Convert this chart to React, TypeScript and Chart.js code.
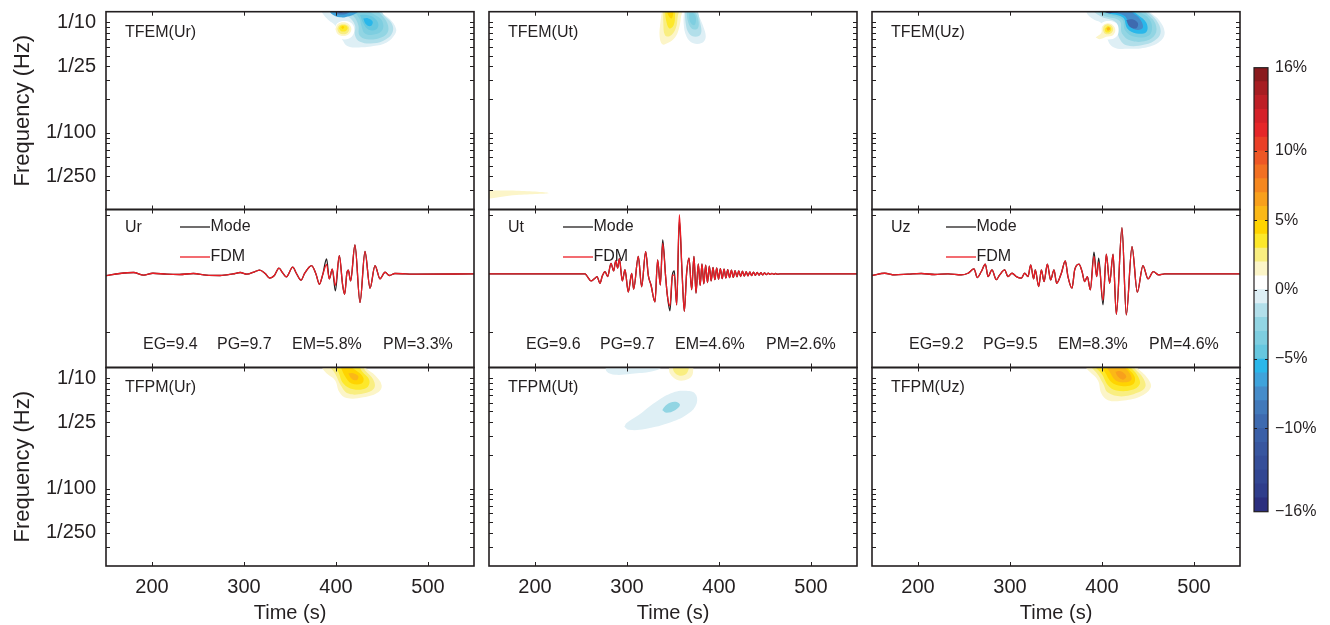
import React, { useEffect, useRef } from "react";
import { Chart, registerables } from "chart.js";

Chart.register(...registerables);

const FONT = "'Liberation Sans', Arial, Helvetica, sans-serif";
const INK = "#231f20";
const RED = "#ec1c24";
Chart.defaults.font.family = FONT;
Chart.defaults.color = INK;

// ---------------- axes ----------------
const timeMin = 150;
const timeMax = 550;
const timeTicks = [200, 300, 400, 500];
const freqMin = 0.002;
const freqMax = 0.125;
const freqLabelValues = [0.1, 0.04, 0.01, 0.004];
const freqLabelText = ["1/10", "1/25", "1/100", "1/250"];
const freqMinorTicks = [0.1, 0.09, 0.08, 0.07, 0.06, 0.05, 0.04, 0.03, 0.02, 0.01, 0.009, 0.008, 0.007, 0.006, 0.005, 0.004, 0.003];
const ampMin = -1.6;
const ampMax = 1.1;
const ampTicks = [-1, 1];

// ---------------- colour scale (band k covers [k, k+1] %) ----------------
const colorMin = -16;
const colorMax = 16;
const colorBands = [
  "#2b2e7e", "#2f3d8b", "#324692", "#354e99", "#38569f", "#3a5fa7", "#3e6aaf", "#4279ba",
  "#468cc9", "#3fa3db", "#2ab7ea", "#66c7df", "#7ecee0", "#92d5e3", "#b2dfea", "#deeff5",
  "#ffffff", "#fcf5c8", "#f9ee80", "#fde82a", "#ffd400", "#fbb817", "#f8a01c", "#f5871f",
  "#f27022", "#ee5725", "#ea3f27", "#e52629", "#d42129", "#be1f26", "#a61d22", "#8a1a1d",
];
const colorTickValues = [-16, -10, -5, 0, 5, 10, 16];
const colorInnerTicks = [-10, -5, 0, 5, 10];

// ---------------- components & misfit numbers ----------------
const components = ["Ur", "Ut", "Uz"];
const egValues = [9.4, 9.6, 9.2];
const pgValues = [9.7, 9.7, 9.5];
const emValues = [5.8, 4.6, 8.3];
const pmValues = [3.3, 2.6, 4.6];

// ---------------- waveforms (time s, normalised amplitude) ----------------
const urTime = [150, 165, 180, 191, 201, 216, 230, 245, 259, 274, 288, 296, 303, 312, 317, 323, 328, 333, 338, 342, 346, 353, 357, 362, 366, 373.5, 378.3, 381.9, 385.5, 389.8, 392.7, 396, 399.3, 403.6, 407.2, 409.4, 411.8, 413.4, 415.9, 420.6, 426.1, 431.5, 437, 442.4, 447.8, 453.3, 458, 464, 488, 550];
const urMode = [-0.03, 0.006, 0.023, -0.023, 0.011, -0.006, -0.011, 0.006, -0.023, -0.028, 0, 0.023, -0.006, 0.04, 0.063, 0.006, -0.074, -0.028, 0.097, 0.017, -0.051, 0.114, 0.006, -0.108, 0.011, 0.142, -0.006, -0.177, -0.017, 0.256, -0.085, 0.08, -0.29, 0.313, -0.188, -0.348, 0.011, 0.063, -0.12, 0.496, -0.49, 0.382, -0.245, 0.142, -0.085, 0.028, -0.028, 0.006, -0.006, 0];
const urFdm = [-0.03, 0.006, 0.023, -0.023, 0.011, -0.006, -0.011, 0.006, -0.023, -0.028, 0, 0.023, -0.006, 0.04, 0.063, 0.006, -0.074, -0.028, 0.097, 0.017, -0.051, 0.114, 0.006, -0.108, 0.011, 0.142, -0.006, -0.177, -0.017, 0.16, -0.085, 0.08, -0.2, 0.31, -0.188, -0.348, 0.011, 0.063, -0.12, 0.496, -0.49, 0.382, -0.245, 0.142, -0.085, 0.028, -0.028, 0.006, -0.006, 0];

const utTime = [150, 250.7, 254.3, 256.2, 260.9, 264.5, 267.4, 270.6, 273.2, 276.1, 279, 282.6, 285.5, 287.7, 289.8, 291.7, 294.9, 297.8, 301.4, 305.1, 307.2, 312.3, 315.9, 320.3, 323.2, 326.1, 330.4, 333.3, 336.2, 338.8, 342, 343.8, 346.7, 349.3, 351.4, 354, 356.9, 359.8, 362.3, 364.8, 367.4, 370.3, 372.8, 375, 377.5, 379.5, 381.5, 383.5, 385.5, 387.5, 389.5, 391.5, 393.5, 395.5, 397.5, 399.5, 401.5, 403.5, 405.5, 407.5, 409.5, 411.5, 413.5, 415.5, 417.5, 419.5, 421.5, 423.5, 425.5, 427.5, 429.5, 431.5, 433.5, 435.5, 437.5, 439.5, 441.5, 443.5, 445.5, 447.5, 449.5, 451.5, 453.5, 455.5, 457.5, 459.5, 461.5, 463.5, 466, 550];
const utMode = [0, 0, 0, -0.03, -0.12, -0.085, -0.046, -0.16, -0.034, 0.04, -0.046, 0.18, 0.05, 0.22, 0.1, 0.26, -0.12, 0.07, -0.31, 0.01, -0.26, 0.3, -0.22, 0.38, -0.03, -0.19, -0.48, 0.24, -0.19, 0.58, -0.05, -0.36, -0.63, -0.02, 0.05, -0.53, 0.92, 0.04, -0.64, 0.01, 0.27, -0.27, 0.3, -0.33, 0.17, -0.2, 0.17, -0.17, 0.15, -0.15, 0.13, -0.12, 0.11, -0.1, 0.1, -0.09, 0.09, -0.08, 0.08, -0.07, 0.07, -0.065, 0.065, -0.06, 0.055, -0.05, 0.05, -0.045, 0.045, -0.04, 0.04, -0.035, 0.035, -0.03, 0.03, -0.025, 0.025, -0.02, 0.02, -0.018, 0.016, -0.014, 0.012, -0.01, 0.009, -0.008, 0.006, -0.005, 0, 0];
const utFdm = [0, 0, 0, -0.03, -0.12, -0.085, -0.046, -0.16, -0.034, 0.04, -0.046, 0.18, 0.05, 0.22, 0.1, 0.26, -0.12, 0.07, -0.31, 0.01, -0.26, 0.3, -0.22, 0.38, -0.03, -0.19, -0.48, 0.24, -0.19, 0.52, -0.05, -0.36, -0.55, -0.02, -0.02, -0.53, 1.01, 0.04, -0.64, 0.01, 0.27, -0.27, 0.3, -0.33, 0.17, -0.2, 0.17, -0.17, 0.15, -0.15, 0.13, -0.12, 0.11, -0.1, 0.1, -0.09, 0.09, -0.08, 0.08, -0.07, 0.07, -0.065, 0.065, -0.06, 0.055, -0.05, 0.05, -0.045, 0.045, -0.04, 0.04, -0.035, 0.035, -0.03, 0.03, -0.025, 0.025, -0.02, 0.02, -0.018, 0.016, -0.014, 0.012, -0.01, 0.009, -0.008, 0.006, -0.005, 0, 0];

const uzTime = [150, 163.8, 174.6, 189.1, 203.6, 218.1, 232.6, 247.1, 254.3, 260.9, 264.5, 268.8, 273.2, 276.1, 280.4, 285.1, 288.8, 294.2, 297.8, 302.2, 306.9, 312.3, 315.9, 319.6, 322.5, 325.7, 327.5, 331.2, 334.1, 337, 340.6, 344.2, 347.8, 350.7, 355.8, 360.1, 363, 367.4, 370.3, 375, 378.3, 381.2, 384.1, 387.3, 391.3, 394.2, 396.4, 401.1, 404.7, 408.3, 412, 415.6, 421.7, 426.4, 432.6, 438.4, 444.5, 450, 455.8, 461.6, 468.1, 550];
const uzMode = [-0.028, 0.011, -0.017, -0.006, 0.006, -0.011, 0, -0.017, 0.011, 0.085, -0.063, 0.04, 0.165, -0.046, 0.068, -0.1, -0.017, 0.068, -0.046, 0.011, -0.046, -0.074, 0.011, -0.046, 0.154, -0.085, 0.068, -0.217, 0.068, -0.131, 0.165, -0.103, 0.068, -0.16, 0.011, 0.222, -0.046, -0.245, 0.068, 0.165, 0.04, -0.131, -0.046, -0.274, 0.37, -0.046, 0.268, -0.53, 0.336, -0.16, 0.336, -0.69, 0.79, -0.7, 0.467, -0.313, 0.142, -0.085, 0.04, -0.017, 0, 0];
const uzFdm = [-0.028, 0.011, -0.017, -0.006, 0.006, -0.011, 0, -0.017, 0.011, 0.085, -0.063, 0.04, 0.165, -0.046, 0.068, -0.1, -0.017, 0.068, -0.046, 0.011, -0.046, -0.074, 0.011, -0.046, 0.154, -0.085, 0.068, -0.217, 0.068, -0.131, 0.165, -0.103, 0.068, -0.16, 0.011, 0.222, -0.046, -0.245, 0.068, 0.165, 0.04, -0.131, -0.046, -0.274, 0.3, -0.046, 0.2, -0.45, 0.336, -0.16, 0.336, -0.69, 0.79, -0.7, 0.467, -0.313, 0.142, -0.085, 0.04, -0.017, 0, 0];

// ---------------- time-frequency misfit contours: [band, [[time s, period s], ...]] ----------------
type Contour = [number, number[][]];

const tfemUr: Contour[] = [
  [-1, [[383.3, 7.5], [385.5, 8.3], [391.7, 9.5], [398.9, 10.6], [401.4, 12.2], [407.2, 14.5], [412.3, 16.4], [422.5, 16.9], [440.6, 16.4], [455.1, 15.2], [464.1, 12.8], [465.2, 11.35], [458.7, 9.35], [449.6, 8.2], [444.2, 7.5]]],
  [-2, [[397.1, 7.5], [413.4, 8.9], [420.6, 10.6], [420.6, 13.06], [426.1, 15.0], [440.6, 15.5], [454.4, 14.2], [461.6, 12.2], [460.5, 10.2], [452.2, 8.6], [446, 7.5]]],
  [-3, [[406.2, 7.5], [418.8, 8.75], [424.3, 10.6], [425.4, 13.06], [433.3, 14.2], [446, 14.0], [455.8, 12.5], [455.8, 10.2], [447.8, 8.28], [442.4, 7.5]]],
  [-4, [[417, 7.5], [425.4, 9.2], [427.9, 10.96], [431.5, 12.6], [442.4, 12.85], [450.7, 11.6], [449.6, 9.53], [440.6, 8.4], [429.7, 7.5]]],
  [-5, [[426.1, 8.58], [429.7, 10.2], [435.1, 11.6], [443.5, 11.6], [446, 10.3], [440.6, 9.0], [433.3, 8.58]]],
  [-6, [[429.7, 9.2], [432.6, 10.4], [437.7, 10.8], [439.9, 9.87], [435.1, 9.2]]],
  [-7, [[391.7, 7.5], [395.3, 8.4], [404.3, 9.0], [415.2, 8.75], [424.3, 8.0], [426.1, 7.5]]],
  [-9, [[397.1, 7.5], [400, 8.28], [406.2, 8.5], [413.4, 8.2], [417, 7.5]]],
  [-12, [[400, 7.5], [402.5, 8.1], [407.2, 8.1], [409.8, 7.5]]],
  [0, [[398.2, 11.75], [401.4, 10.2], [409.1, 9.7], [417, 10.2], [419.9, 11.75], [417, 13.5], [409.1, 14.3], [401.4, 13.5]]],
  [1, [[399.3, 11.5], [401.8, 10.4], [408, 10.0], [414.1, 10.4], [416.7, 11.5], [414.1, 12.75], [408, 13.3], [401.8, 12.75]]],
  [2, [[401.4, 11.5], [403.3, 10.7], [408, 10.4], [412.7, 10.7], [414.5, 11.5], [412.7, 12.4], [408, 12.8], [403.3, 12.4]]],
  [3, [[403.3, 11.3], [405, 10.75], [408, 10.6], [411, 10.75], [412.7, 11.3], [411, 11.9], [408, 12.1], [405, 11.9]]],
  [4, [[405.5, 11.1], [407.2, 10.8], [409, 11.1], [407.2, 11.5]]],
];

const tfemUt: Contour[] = [
  [1, [[140, 338], [180, 338], [215, 355], [180, 370], [140, 395]]],
  [1, [[338.4, 7.5], [336.2, 10.2], [335.5, 13.5], [338.4, 15.8], [344.2, 15.4], [352.2, 13.7], [356.5, 11.35], [358.7, 8.9], [359.4, 7.5]]],
  [2, [[339.5, 7.5], [339.5, 10.2], [341.3, 13.06], [346.7, 13.3], [352.9, 11.35], [355.1, 8.9], [355.8, 7.5]]],
  [3, [[341.3, 7.5], [342.4, 9.53], [346, 11.35], [350.7, 10.6], [352.2, 8.6], [351.4, 7.5]]],
  [4, [[343.1, 7.5], [344.9, 8.6], [348.5, 9.2], [350.3, 8.0], [349.3, 7.5]]],
  [-1, [[362.3, 7.5], [361.6, 10.2], [364.8, 13.5], [372.1, 15.5], [381.2, 15.4], [385.5, 13.7], [383, 10.96], [377.5, 8.58], [374, 7.5]]],
  [-2, [[363, 7.5], [363.8, 10.2], [367.4, 12.6], [374.6, 13.5], [380.4, 12.6], [379.3, 9.87], [374.6, 7.5]]],
  [-3, [[364.8, 7.8], [365.9, 9.53], [370.3, 11.35], [376.8, 11.35], [377.5, 9.53], [373.2, 8.0]]],
  [-4, [[367.4, 8.28], [368.5, 9.87], [373.2, 10.6], [375, 9.2], [372.1, 8.28]]],
];

const tfemUz: Contour[] = [
  [-1, [[381.9, 7.5], [384.8, 8.58], [392, 9.53], [399.3, 10.2], [404.7, 13.5], [411.9, 16.7], [428.3, 17.4], [450, 16.7], [464.5, 14.5], [468.1, 12.2], [462.7, 9.7], [453.6, 8.28], [448.2, 7.5]]],
  [-2, [[386.6, 7.5], [399.3, 8.9], [415.6, 10.1], [418.1, 13.5], [426.5, 16.1], [446.4, 15.9], [460.1, 14.0], [463.8, 11.9], [459, 9.53], [450, 8.0], [446.4, 7.5]]],
  [-3, [[390.2, 7.5], [402.9, 8.75], [419.2, 9.7], [421.7, 12.6], [431.9, 14.7], [448.2, 14.7], [457.9, 12.85], [457.9, 10.2], [448.2, 8.2], [442.7, 7.5]]],
  [-4, [[393.8, 7.5], [404.7, 8.4], [421.7, 9.4], [425.4, 11.9], [435.5, 13.5], [450, 13.3], [454.3, 11.6], [451.8, 9.4], [440.9, 8.0], [435.5, 7.5]]],
  [-6, [[397.5, 7.5], [406.5, 8.2], [422.8, 9.05], [427.5, 11.35], [437.3, 12.6], [448.2, 12.2], [448.2, 10.1], [439.1, 8.58], [431.9, 7.8], [428.3, 7.5]]],
  [-8, [[399.3, 7.5], [408.3, 8.0], [424.6, 8.75], [430.1, 10.8], [438.4, 11.75], [444.5, 11.1], [440.9, 9.2], [433.7, 8.2], [428.3, 7.5]]],
  [-10, [[401.1, 7.5], [406.5, 8.0], [415.6, 8.2], [421, 7.8], [423, 7.5]]],
  [-10, [[426.4, 9.53], [430.1, 10.96], [437.3, 11.3], [439.1, 10.2], [433.7, 9.4]]],
  [-13, [[401.1, 7.5], [403.6, 8.1], [410.1, 8.2], [413.7, 7.5]]],
  [0, [[396.4, 11.75], [399.3, 10.2], [407.2, 9.7], [415.6, 10.2], [418.1, 11.75], [415.6, 13.5], [407.2, 14.3], [399.3, 13.5]]],
  [1, [[393.1, 13.7], [399.3, 12.4], [400, 10.96], [405.8, 10.2], [411.9, 10.6], [414.5, 11.75], [411.9, 13.06], [404.7, 13.5], [397.5, 14.2]]],
  [2, [[401.1, 11.75], [402.2, 10.8], [406.5, 10.4], [411.2, 10.96], [411.9, 11.9], [408.3, 12.75], [402.9, 12.6]]],
  [3, [[402.9, 11.5], [406.5, 10.8], [410.1, 11.35], [408.3, 12.2], [404, 12.2]]],
  [5, [[404.7, 11.35], [407.2, 11.0], [409, 11.5], [406.5, 11.9]]],
];

const tfpmUr: Contour[] = [
  [1, [[380.8, 7.3], [389.9, 9.07], [398.9, 10.42], [403.6, 13.3], [411.6, 15.1], [429.7, 14.9], [446, 13.4], [449.6, 11.55], [442.4, 9.4], [433.3, 8.2], [427.9, 7.3]]],
  [2, [[389.9, 7.3], [398.9, 9.07], [405.1, 11.55], [413.4, 13.75], [429.7, 13.75], [441.3, 12.4], [440.6, 10.3], [431.5, 8.45], [426.1, 7.3]]],
  [3, [[397.1, 7.3], [402.5, 8.75], [408, 11.17], [418.8, 12.6], [433.3, 12.2], [436.2, 10.42], [427.9, 8.6], [422.5, 7.3]]],
  [4, [[404.3, 7.6], [409.8, 9.6], [417, 11.17], [427.9, 11.17], [429.7, 9.9], [422.5, 8.6], [413.4, 7.8]]],
  [5, [[413.4, 9.0], [417, 10.1], [422.5, 10.42], [424.3, 9.6], [418.8, 9.0]]],
];

const tfpmUt: Contour[] = [
  [-1, [[276.8, 7.6], [277.9, 8.7], [287, 9.3], [305.1, 9.1], [326.8, 8.7], [337.7, 8.0], [337.7, 7.3]]],
  [1, [[345.6, 7.3], [345.6, 8.0], [346.7, 9.07], [354, 10.3], [363, 10.42], [370.3, 9.6], [372.1, 8.15], [372.1, 7.3]]],
  [2, [[350.3, 7.3], [350.3, 8.45], [355.8, 9.4], [363, 9.3], [366.6, 8.45], [367.4, 7.3]]],
  [-1, [[297.1, 27.5], [302.2, 29.3], [319.6, 28.8], [348.5, 24.9], [366.7, 20.9], [375.7, 16.9], [373.9, 13.75], [363, 13.0], [352.2, 13.28], [334.1, 15.8], [312.3, 21.6], [299.6, 25.4]]],
  [-3, [[338.4, 19.45], [343.1, 20.5], [352.2, 19.45], [357.6, 17.5], [354, 16.4], [346.7, 16.7], [340.6, 18.2]]],
];

const tfpmUz: Contour[] = [
  [1, [[377.5, 7.3], [386.6, 8.76], [395.6, 10.5], [399.3, 13.75], [406.5, 15.8], [421, 16.0], [441, 14.75], [452.9, 12.2], [450, 10.1], [439.1, 8.15], [433.7, 7.3]]],
  [2, [[383, 7.3], [393.8, 8.9], [401.1, 11.17], [406.5, 13.5], [421, 14.6], [439.1, 13.5], [447.1, 11.97], [444.5, 9.9], [435.5, 8.15], [430.1, 7.3]]],
  [3, [[387.7, 7.3], [399.3, 9.07], [406.5, 11.55], [415.6, 12.9], [431.9, 12.8], [441, 11.35], [438.4, 9.4], [430.1, 7.85], [426.4, 7.3]]],
  [4, [[395.6, 7.3], [402.9, 8.76], [410.1, 10.8], [421, 11.75], [433.7, 11.35], [435.5, 9.72], [428.3, 8.15], [422.8, 7.3]]],
  [5, [[402.9, 7.55], [408.3, 8.76], [414.5, 10.42], [424.6, 10.9], [431.9, 10.3], [430.1, 9.0], [422.8, 7.85], [413.8, 7.4]]],
  [6, [[414.5, 8.76], [417.4, 9.72], [422.8, 10.3], [426.4, 9.72], [423.9, 9.0], [419.2, 8.6]]],
];

const tfemPanels = [tfemUr, tfemUt, tfemUz];
const tfpmPanels = [tfpmUr, tfpmUt, tfpmUz];
const waveTimes = [urTime, utTime, uzTime];
const waveMode = [urMode, utMode, uzMode];
const waveFdm = [urFdm, utFdm, uzFdm];

// ---------------- layout ----------------
const PAGE_H = 625;
const COL_LEFT = [106, 489, 872];
const COL_W = 368;
const ROW_EDGES = [11.7, 209.5, 367.5, 566];
const M = 32;

type Note = { text: string; x: number; y: number; line?: [number, number]; lineColor?: string };

function bandColor(b: number) {
  return colorBands[b - colorMin];
}

function panelBox(col: number, row: number) {
  const withY = col === 0 && row !== 1;
  const withX = row === 2;
  const l = COL_LEFT[col];
  const r = l + COL_W;
  const t = ROW_EDGES[row];
  const b = ROW_EDGES[row + 1];
  const x = withY ? 0 : Math.floor(l) - M;
  const y = Math.floor(t) - M;
  const xr = Math.ceil(r) + M;
  const yb = withX ? PAGE_H : Math.ceil(b) + M;
  return {
    x, y, w: xr - x, h: yb - y, withX, withY,
    pad: { left: withY ? 0 : l - x, top: t - y, right: xr - r, bottom: withX ? 0 : yb - b },
    yW: l - x, xH: yb - b,
  };
}

function framePlugin(xTicks: number[], yTicks: number[], notes: Note[]) {
  return {
    id: "frameNotes",
    afterDraw(chart: any) {
      const { ctx, chartArea: a, scales } = chart;
      ctx.save();
      ctx.strokeStyle = INK;
      ctx.lineWidth = 1;
      const len = 4;
      ctx.beginPath();
      for (const v of xTicks) {
        const px = Math.round(scales.x.getPixelForValue(v)) + 0.5;
        ctx.moveTo(px, a.top); ctx.lineTo(px, a.top + len);
        ctx.moveTo(px, a.bottom); ctx.lineTo(px, a.bottom - len);
      }
      for (const v of yTicks) {
        const py = Math.round(scales.y.getPixelForValue(v)) + 0.5;
        ctx.moveTo(a.left, py); ctx.lineTo(a.left + len, py);
        ctx.moveTo(a.right, py); ctx.lineTo(a.right - len, py);
      }
      ctx.stroke();
      ctx.lineWidth = 1.6;
      ctx.strokeRect(a.left, a.top, a.right - a.left, a.bottom - a.top);
      ctx.font = `16px ${FONT}`;
      ctx.textBaseline = "middle";
      ctx.textAlign = "left";
      for (const n of notes) {
        if (n.line) {
          ctx.strokeStyle = n.lineColor || INK;
          ctx.lineWidth = 1.3;
          ctx.beginPath();
          ctx.moveTo(a.left + n.line[0], a.top + n.y);
          ctx.lineTo(a.left + n.line[1], a.top + n.y);
          ctx.stroke();
        }
        ctx.fillStyle = INK;
        ctx.fillText(n.text, a.left + n.x, a.top + n.y);
      }
      ctx.restore();
    },
  };
}

function xScale(box: any) {
  return {
    type: "linear",
    min: timeMin,
    max: timeMax,
    display: box.withX,
    afterFit: (s: any) => { s.height = box.withX ? box.xH : 0; },
    afterBuildTicks: (s: any) => { s.ticks = timeTicks.map((v) => ({ value: v })); },
    ticks: { font: { size: 20, family: FONT }, color: INK, padding: 9, maxRotation: 0, autoSkip: false, callback: (v: any) => String(v) },
    grid: { display: false, drawTicks: false },
    border: { display: false },
    title: { display: box.withX, text: "Time (s)", font: { size: 20, family: FONT }, color: INK, padding: { top: 0, bottom: 0 } },
  };
}

function baseOptions(box: any) {
  return {
    responsive: false,
    animation: false,
    devicePixelRatio: 1,
    events: [],
    layout: { padding: box.pad },
    plugins: { legend: { display: false }, tooltip: { enabled: false } },
    elements: { line: { capBezierPoints: false }, point: { radius: 0, hoverRadius: 0 } },
  };
}

function tfConfig(col: number, row: number, contours: Contour[], label: string) {
  const box = panelBox(col, row);
  const datasets = contours
    .map(([band, pts]) => ({
      data: [...pts, pts[0]].map(([t, p]) => ({ x: t, y: 1 / p })),
      backgroundColor: bandColor(band),
      borderColor: bandColor(band),
      borderWidth: 0,
      pointRadius: 0,
      fill: "shape",
      tension: 0.4,
      clip: 0,
    }))
    .reverse();
  return {
    box,
    config: {
      type: "line",
      data: { datasets },
      options: {
        ...baseOptions(box),
        scales: {
          x: xScale(box),
          y: {
            type: "logarithmic",
            min: freqMin,
            max: freqMax,
            display: box.withY,
            afterFit: (s: any) => { s.width = box.withY ? box.yW : 0; },
            afterBuildTicks: (s: any) => { s.ticks = freqLabelValues.map((v) => ({ value: v })); },
            ticks: {
              font: { size: 20, family: FONT }, color: INK, padding: 10, autoSkip: false,
              callback: (v: any) => { const i = freqLabelValues.indexOf(Number(v)); return i >= 0 ? freqLabelText[i] : ""; },
            },
            grid: { display: false, drawTicks: false },
            border: { display: false },
            title: { display: box.withY, text: "Frequency (Hz)", font: { size: 22, family: FONT }, color: INK, padding: { top: 10, bottom: 0 } },
          },
        },
      },
      plugins: [framePlugin(timeTicks, freqMinorTicks, [{ text: label, x: 19, y: row === 0 ? 21.3 : 20.5 }])],
    },
  };
}

function waveConfig(col: number) {
  const box = panelBox(col, 1);
  const t = waveTimes[col];
  const notes: Note[] = [
    { text: components[col], x: 19, y: 18.5 },
    { text: "Mode", x: 104.5, y: 17.5, line: [74, 104], lineColor: INK },
    { text: "FDM", x: 104.5, y: 47.5, line: [74, 104], lineColor: RED },
    { text: `EG=${egValues[col].toFixed(1)}`, x: 37, y: 135.5 },
    { text: `PG=${pgValues[col].toFixed(1)}`, x: 111, y: 135.5 },
    { text: `EM=${emValues[col].toFixed(1)}%`, x: 186, y: 135.5 },
    { text: `PM=${pmValues[col].toFixed(1)}%`, x: 277, y: 135.5 },
  ];
  return {
    box,
    config: {
      type: "line",
      data: {
        datasets: [
          { label: "FDM", data: t.map((x, i) => ({ x, y: waveFdm[col][i] })), borderColor: RED, borderWidth: 1.3, pointRadius: 0, fill: false, cubicInterpolationMode: "monotone" },
          { label: "Mode", data: t.map((x, i) => ({ x, y: waveMode[col][i] })), borderColor: INK, borderWidth: 1.3, pointRadius: 0, fill: false, cubicInterpolationMode: "monotone" },
        ],
      },
      options: {
        ...baseOptions(box),
        scales: {
          x: xScale(box),
          y: { type: "linear", min: ampMin, max: ampMax, display: false },
        },
      },
      plugins: [framePlugin(timeTicks, ampTicks, notes)],
    },
  };
}

function colorbarConfig() {
  const box = { x: 1240, y: 30, w: 90, h: 520 };
  const pad = { left: 14, top: 67.7 - 30, right: 0, bottom: 550 - 511.7 };
  return {
    box,
    config: {
      type: "bar",
      data: {
        labels: [""],
        datasets: colorBands.map((c, i) => ({
          data: [[colorMin + i, colorMin + i + 1]],
          backgroundColor: c,
          borderWidth: 0,
          grouped: false,
          barPercentage: 1,
          categoryPercentage: 1,
        })),
      },
      options: {
        responsive: false,
        animation: false,
        devicePixelRatio: 1,
        events: [],
        layout: { padding: pad },
        plugins: { legend: { display: false }, tooltip: { enabled: false } },
        scales: {
          x: { display: false },
          y: {
            position: "right",
            min: colorMin,
            max: colorMax,
            afterFit: (s: any) => { s.width = 62; },
            afterBuildTicks: (s: any) => { s.ticks = colorTickValues.map((v) => ({ value: v })); },
            ticks: { font: { size: 16, family: FONT }, color: INK, padding: 7, autoSkip: false, callback: (v: any) => (Number(v) < 0 ? "\u2212" + Math.abs(Number(v)) : String(v)) + "%" },
            grid: { display: false, drawTicks: false },
            border: { display: false },
          },
        },
      },
      plugins: [
        {
          id: "cbFrame",
          afterDraw(chart: any) {
            const { ctx, chartArea: a, scales } = chart;
            ctx.save();
            ctx.strokeStyle = INK;
            ctx.lineWidth = 1;
            ctx.beginPath();
            for (const v of colorInnerTicks) {
              const py = Math.round(scales.y.getPixelForValue(v)) + 0.5;
              ctx.moveTo(a.left, py); ctx.lineTo(a.left + 3, py);
              ctx.moveTo(a.right, py); ctx.lineTo(a.right - 3, py);
            }
            ctx.stroke();
            ctx.lineWidth = 1.2;
            ctx.strokeRect(a.left, a.top, a.right - a.left, a.bottom - a.top);
            ctx.restore();
          },
        },
      ],
    },
  };
}

function ChartCanvas({ spec }: { spec: { box: any; config: any } }) {
  const ref = useRef<HTMLCanvasElement | null>(null);
  useEffect(() => {
    if (!ref.current) return;
    const chart = new Chart(ref.current, spec.config);
    return () => chart.destroy();
  }, []);
  const b = spec.box;
  return (
    <canvas
      ref={ref}
      width={b.w}
      height={b.h}
      style={{ position: "absolute", left: b.x, top: b.y, width: b.w, height: b.h }}
    />
  );
}

export default function App() {
  const specs: { box: any; config: any }[] = [];
  for (let c = 0; c < 3; c++) {
    specs.push(tfConfig(c, 0, tfemPanels[c], `TFEM(${components[c]})`));
    specs.push(waveConfig(c));
    specs.push(tfConfig(c, 2, tfpmPanels[c], `TFPM(${components[c]})`));
  }
  specs.push(colorbarConfig());
  return (
    <div style={{ position: "absolute", left: 0, top: 0, width: 1330, height: 625, overflow: "hidden", background: "#fff" }}>
      {specs.map((s, i) => (
        <ChartCanvas key={i} spec={s} />
      ))}
    </div>
  );
}
